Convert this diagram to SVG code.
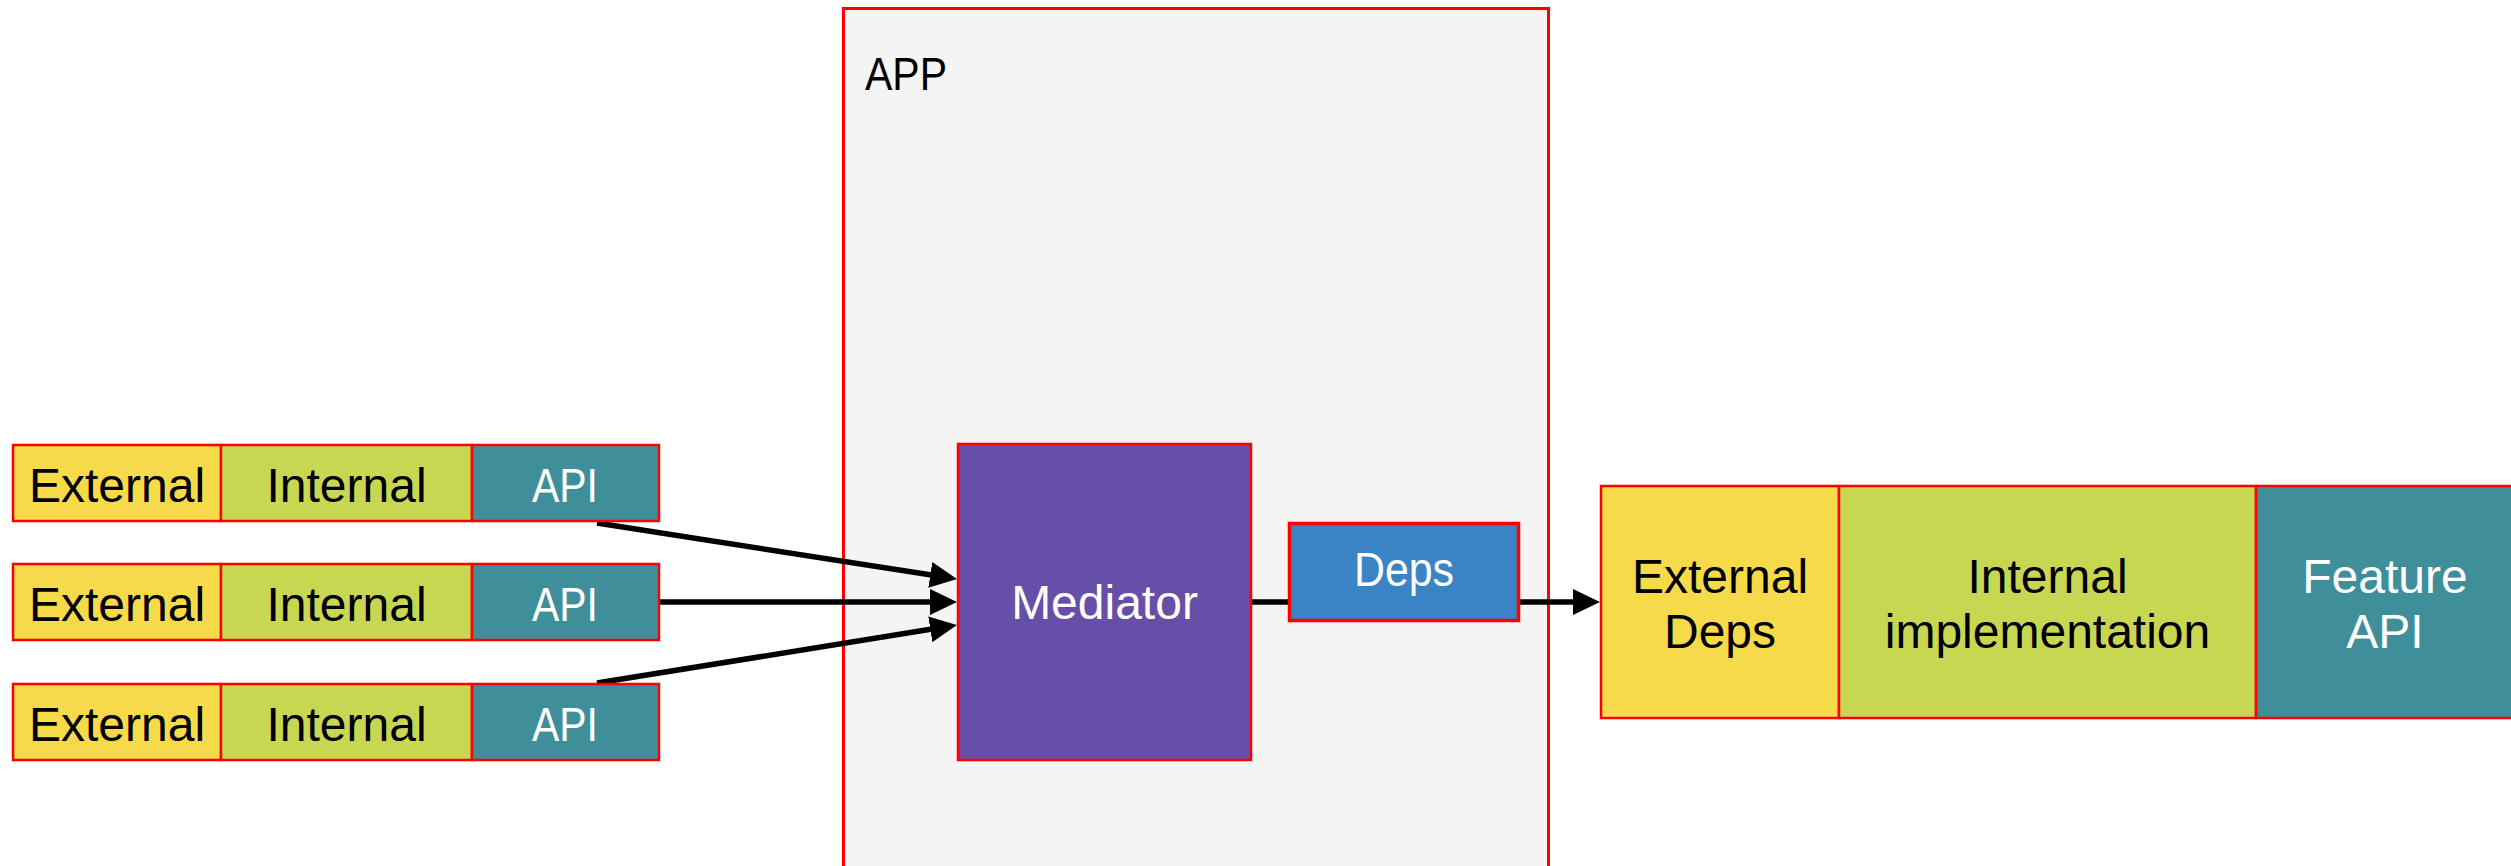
<svg xmlns="http://www.w3.org/2000/svg" width="2511" height="866" viewBox="0 0 2511 866">
  <style>
    .box { stroke: #ff0000; stroke-width: 2.5; }
    .ext { fill: #f7da4a; }
    .int { fill: #c8d752; }
    .api { fill: #3f8f9a; }
    .lbl { font-family: "Liberation Sans", Arial, sans-serif; font-size: 48px; text-anchor: middle; fill: #000000; }
    .lbl.light { fill: #ffffff; }
    .wire { stroke: #000000; stroke-width: 5.5; fill: none; }
  </style>
  <defs>
    <marker id="head" markerUnits="userSpaceOnUse" markerWidth="27" markerHeight="26" refX="16" refY="13" orient="auto">
      <path d="M0,0 L27,13 L0,26 Z" fill="#000000"/>
    </marker>
  </defs>

  <rect width="2511" height="866" fill="#ffffff"/>

  <!-- application container -->
  <g id="app">
    <rect x="843.5" y="8.5" width="705" height="900" fill="#f4f4f4" stroke="#ff0000" stroke-width="3"/>
    <text x="865" y="90" class="lbl" style="text-anchor:start;font-size:46px" textLength="82" lengthAdjust="spacingAndGlyphs">APP</text>
  </g>

  <!-- connectors -->
  <g id="connectors">
    <line class="wire" x1="597" y1="523" x2="946.1" y2="577.3" marker-end="url(#head)"/>
    <line class="wire" x1="659" y1="602" x2="946" y2="602" marker-end="url(#head)"/>
    <line class="wire" x1="597" y1="683" x2="946.1" y2="626.8" marker-end="url(#head)"/>
    <line class="wire" x1="1252" y1="602" x2="1289" y2="602"/>
    <line class="wire" x1="1520" y1="602" x2="1589" y2="602" marker-end="url(#head)"/>
  </g>

  <!-- feature modules on the left -->
  <g id="module-1">
    <rect class="box ext" x="13" y="445" width="208" height="76"/>
    <rect class="box int" x="221" y="445" width="251" height="76"/>
    <rect class="box api" x="472" y="445" width="187" height="76"/>
    <text class="lbl" x="117" y="502">External</text>
    <text class="lbl" x="346.5" y="502">Internal</text>
    <text class="lbl light" x="565" y="502" textLength="66" lengthAdjust="spacingAndGlyphs">API</text>
  </g>
  <g id="module-2">
    <rect class="box ext" x="13" y="564" width="208" height="76"/>
    <rect class="box int" x="221" y="564" width="251" height="76"/>
    <rect class="box api" x="472" y="564" width="187" height="76"/>
    <text class="lbl" x="117" y="621">External</text>
    <text class="lbl" x="346.5" y="621">Internal</text>
    <text class="lbl light" x="565" y="621" textLength="66" lengthAdjust="spacingAndGlyphs">API</text>
  </g>
  <g id="module-3">
    <rect class="box ext" x="13" y="684" width="208" height="76"/>
    <rect class="box int" x="221" y="684" width="251" height="76"/>
    <rect class="box api" x="472" y="684" width="187" height="76"/>
    <text class="lbl" x="117" y="741">External</text>
    <text class="lbl" x="346.5" y="741">Internal</text>
    <text class="lbl light" x="565" y="741" textLength="66" lengthAdjust="spacingAndGlyphs">API</text>
  </g>

  <!-- mediator -->
  <g id="mediator">
    <rect class="box" x="958" y="444" width="293" height="316" fill="#674ea7"/>
    <text class="lbl light" x="1104.5" y="619">Mediator</text>
  </g>

  <!-- deps -->
  <g id="deps">
    <rect x="1289.5" y="523.5" width="229" height="97" fill="#3a84c5" stroke="#ff0000" stroke-width="3.5"/>
    <text class="lbl light" x="1404" y="586" textLength="100" lengthAdjust="spacingAndGlyphs">Deps</text>
  </g>

  <!-- feature module on the right -->
  <g id="feature">
    <rect class="box ext" x="1601" y="486" width="238" height="232"/>
    <rect class="box int" x="1839" y="486" width="417" height="232"/>
    <rect class="box api" x="2256" y="486" width="280" height="232"/>
    <text class="lbl" x="1720" y="593">External</text>
    <text class="lbl" x="1720" y="648">Deps</text>
    <text class="lbl" x="2047.5" y="593">Internal</text>
    <text class="lbl" x="2047.5" y="648">implementation</text>
    <text class="lbl light" x="2385" y="593">Feature</text>
    <text class="lbl light" x="2385" y="648">API</text>
  </g>
</svg>
